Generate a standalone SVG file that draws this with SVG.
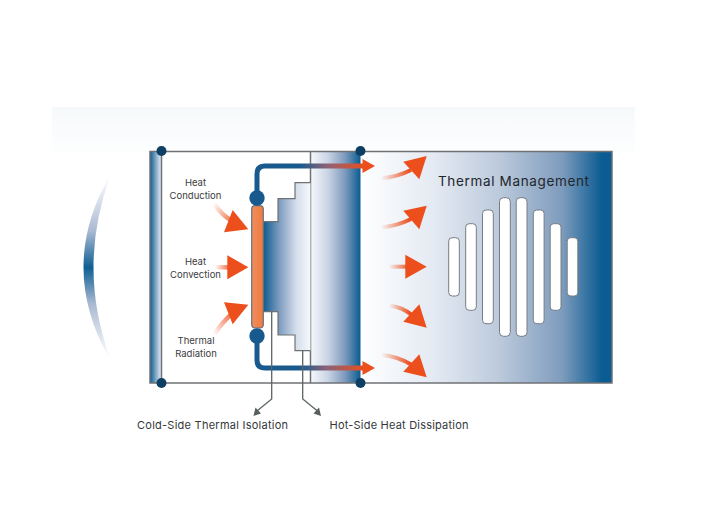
<svg xmlns="http://www.w3.org/2000/svg" width="709" height="521" viewBox="0 0 709 521">
  <style>
    .frame { fill: none; stroke: #6f7275; stroke-width: 1.5; }
    .dot { fill: #0c3f63; }
    .joint { fill: #195a8e; }
    .slot { fill: #fff; stroke: #777d83; stroke-width: 1; }
    .heat { fill: #ec4e1c; }
    .label { font-family: "Inter", "Noto Sans", "Liberation Sans", sans-serif; font-size: 9.5px; fill: #3a3d40; text-anchor: middle; }
    .caption { font-family: "Inter", "Noto Sans", "Liberation Sans", sans-serif; font-size: 11px; fill: #33373b; }
    .title { font-family: "Inter", "Noto Sans", "Liberation Sans", sans-serif; font-size: 13.5px; fill: #22262b; }
    .leader { fill: none; stroke: #5c6468; stroke-width: 1.3; }
    .tip { fill: #56605f; }
  </style>
  <defs>
    <linearGradient id="haze" x1="0" y1="0" x2="0" y2="1"><stop offset="0" stop-color="#f6f9fb"/><stop offset="1" stop-color="#fff"/></linearGradient>
    <linearGradient id="wall" x1="0" y1="0" x2="1" y2="0"><stop offset="0" stop-color="#0c5c92"/><stop offset="1" stop-color="#eef1f8"/></linearGradient>
    <linearGradient id="hotwall" x1="0" y1="0" x2="1" y2="0"><stop offset="0" stop-color="#f7f8fc"/><stop offset=".35" stop-color="#c9d4e4"/><stop offset=".7" stop-color="#7b98bb"/><stop offset="1" stop-color="#0a5c92"/></linearGradient>
    <linearGradient id="outer" x1="0" y1="0" x2="1" y2="0"><stop offset="0" stop-color="#fff"/><stop offset=".3" stop-color="#e3e9f2"/><stop offset=".55" stop-color="#bccadc"/><stop offset=".8" stop-color="#7f9cbd"/><stop offset=".96" stop-color="#0a5c92"/><stop offset="1" stop-color="#0a5c92"/></linearGradient>
    <linearGradient id="steps" x1="0" y1="0" x2="1" y2="0"><stop offset="0" stop-color="#0d5a90"/><stop offset=".35" stop-color="#7f9dc0"/><stop offset=".7" stop-color="#d5deeb"/><stop offset="1" stop-color="#f6f8fc"/></linearGradient>
    <linearGradient id="plate" x1="0" y1="0" x2="1" y2="0"><stop offset="0" stop-color="#ee8e5f"/><stop offset="1" stop-color="#f27a3e"/></linearGradient>
    <linearGradient id="arc" x1="0" y1="177" x2="0" y2="358" gradientUnits="userSpaceOnUse"><stop offset="0" stop-color="#fff"/><stop offset=".3" stop-color="#a9b9d2"/><stop offset=".5" stop-color="#0f5f92"/><stop offset=".7" stop-color="#a9b9d2"/><stop offset="1" stop-color="#fff"/></linearGradient>
    <linearGradient id="pipeTop" x1="257" y1="0" x2="365" y2="0" gradientUnits="userSpaceOnUse"><stop offset="0" stop-color="#195a8e"/><stop offset=".4" stop-color="#195a8e"/><stop offset=".65" stop-color="#8d6276"/><stop offset="1" stop-color="#ec4e1c"/></linearGradient>
    <linearGradient id="fadeR" x1="0" y1="0" x2="1" y2="0"><stop offset="0" stop-color="#ec4e1c" stop-opacity="0"/><stop offset="1" stop-color="#ec4e1c"/></linearGradient>
    <linearGradient id="fadeA" x1="214" y1="203" x2="238" y2="225" gradientUnits="userSpaceOnUse"><stop offset="0" stop-color="#ec4e1c" stop-opacity="0"/><stop offset="1" stop-color="#ec4e1c"/></linearGradient>
    <linearGradient id="fadeC" x1="214" y1="335" x2="238" y2="312" gradientUnits="userSpaceOnUse"><stop offset="0" stop-color="#ec4e1c" stop-opacity="0"/><stop offset="1" stop-color="#ec4e1c"/></linearGradient>
    <linearGradient id="fadeM" x1="215" y1="0" x2="232" y2="0" gradientUnits="userSpaceOnUse"><stop offset="0" stop-color="#ec4e1c" stop-opacity="0"/><stop offset="1" stop-color="#ec4e1c"/></linearGradient>
    <linearGradient id="fade1" x1="381" y1="0" x2="410" y2="0" gradientUnits="userSpaceOnUse"><stop offset="0" stop-color="#ec4e1c" stop-opacity="0"/><stop offset="1" stop-color="#ec4e1c"/></linearGradient>
    <linearGradient id="fade3" x1="389" y1="0" x2="410" y2="0" gradientUnits="userSpaceOnUse"><stop offset="0" stop-color="#ec4e1c" stop-opacity="0"/><stop offset="1" stop-color="#ec4e1c"/></linearGradient>
  </defs>

  <!-- pale band behind the top of the assembly -->
  <rect x="52" y="107" width="583" height="54" fill="url(#haze)"/>

  <!-- curved shield on the far left -->
  <path d="M109,177 Q58,267 109,358 L110,358 Q77,267 110,177 Z" fill="url(#arc)"/>

  <g id="outer-panel">
    <rect x="360.5" y="151.5" width="251.5" height="231.5" fill="url(#outer)"/>
  </g>
  <g id="hot-wall">
    <rect x="310.5" y="151.5" width="50" height="231.5" fill="url(#hotwall)"/>
  </g>
  <g id="cold-wall">
    <rect x="150" y="151.5" width="11.5" height="231.5" fill="url(#wall)"/>
  </g>

  <!-- enclosure outlines -->
  <g id="frame">
    <rect class="frame" x="150" y="151.5" width="462" height="231.5"/>
    <line class="frame" x1="161.5" y1="151.5" x2="161.5" y2="383"/>
    <line class="frame" x1="310.5" y1="151.5" x2="310.5" y2="383"/>
  </g>

  <g id="stepped-block">
    <path d="M263,221.7H278V198.7H295V182.7H310.5V350.7H295V335H278V311.7H263Z" fill="url(#steps)"/>
    <path class="frame" style="stroke-width:1.2" d="M263,221.7H278V198.7H295V182.7H310.5M310.5,350.7H295V335H278V311.7H263"/>
  </g>

  <g id="connectors">
    <!-- coolant pipes -->
    <path d="M257,198V174Q257,166 265,166H364" fill="none" stroke="url(#pipeTop)" stroke-width="5"/>
    <path d="M257,336V360Q257,368 265,368H364" fill="none" stroke="url(#pipeTop)" stroke-width="5"/>
    <polygon class="heat" points="375,166 362.5,159 362.5,173"/>
    <polygon class="heat" points="375,368 362.5,361 362.5,375"/>
    <!-- leader lines to the captions -->
    <path class="leader" d="M271.7,311.7V399L257,411"/>
    <polygon class="tip" points="253.5,416 255.5,407.5 261,413.5"/>
    <path class="leader" d="M302.7,350.7V399L317.5,411"/>
    <polygon class="tip" points="321,416 319,407.5 313.5,413.5"/>
    <!-- heat flowing out through the panel -->
    <path d="M381.7,178.3Q397,177 411,170" fill="none" stroke="url(#fade1)" stroke-width="4"/>
    <polygon class="heat" points="426.7,156 403.3,161.7 419.3,179.3"/>
    <path d="M381.7,227.3Q397,226 411,219" fill="none" stroke="url(#fade1)" stroke-width="4"/>
    <polygon class="heat" points="426.7,205.7 403.3,210.7 419.3,229.3"/>
    <path d="M389.3,266.7H407" fill="none" stroke="url(#fade3)" stroke-width="4"/>
    <polygon class="heat" points="426.7,266.7 405.3,254.7 405.3,278.7"/>
    <path d="M389.3,305.7Q402,307 412,315" fill="none" stroke="url(#fade3)" stroke-width="4"/>
    <polygon class="heat" points="426.7,327.7 419.3,304.3 403.3,321.7"/>
    <path d="M381.7,355Q397,356 412,365" fill="none" stroke="url(#fade1)" stroke-width="4"/>
    <polygon class="heat" points="426.7,377.3 419.3,354.3 403.3,371.7"/>
    <!-- heat arriving at the plate -->
    <path d="M214,203.3Q222,216 234,222" fill="none" stroke="url(#fadeA)" stroke-width="4.5"/>
    <polygon class="heat" points="248.3,229.3 232.7,210 224,232.3"/>
    <path d="M215,267.3H229" fill="none" stroke="url(#fadeM)" stroke-width="4.5"/>
    <polygon class="heat" points="248.3,267.3 227.3,255.3 227.3,279.3"/>
    <path d="M214,335Q222,322 234,312" fill="none" stroke="url(#fadeC)" stroke-width="4.5"/>
    <polygon class="heat" points="248.3,304.7 224,302.3 232.7,324.3"/>
  </g>

  <g id="plate-node">
    <rect x="251.7" y="205.7" width="11.6" height="122.3" rx="3.5" fill="url(#plate)" stroke="#69727a" stroke-width="1.2"/>
  </g>
  <g id="joint-top"><circle class="joint" cx="257" cy="198" r="7.7"/></g>
  <g id="joint-bottom"><circle class="joint" cx="257" cy="336" r="7.7"/></g>

  <g id="corner-dots">
    <circle class="dot" cx="161.5" cy="151" r="5"/>
    <circle class="dot" cx="161.5" cy="383" r="5"/>
    <circle class="dot" cx="360.5" cy="151" r="5"/>
    <circle class="dot" cx="360.5" cy="383" r="5"/>
  </g>

  <g id="vent-slots">
    <rect class="slot" x="448.7" y="237.7" width="10.6" height="58.3" rx="3.5"/>
    <rect class="slot" x="465.7" y="223.7" width="10.6" height="86.6" rx="3.5"/>
    <rect class="slot" x="482.5" y="210" width="10.8" height="113.7" rx="3.5"/>
    <rect class="slot" x="499.5" y="197.7" width="10.8" height="138.6" rx="4"/>
    <rect class="slot" x="516.2" y="197.7" width="10.8" height="138.6" rx="4"/>
    <rect class="slot" x="533.3" y="210" width="10.8" height="113.7" rx="3.5"/>
    <rect class="slot" x="550.2" y="223.7" width="10.8" height="86.6" rx="3.5"/>
    <rect class="slot" x="567.2" y="237.7" width="10.6" height="58.3" rx="3.5"/>
  </g>

  <g id="label-conduction">
    <text class="label" x="195.5" y="186">Heat</text>
    <text class="label" x="195.5" y="199">Conduction</text>
  </g>
  <g id="label-convection">
    <text class="label" x="195.5" y="265">Heat</text>
    <text class="label" x="195.5" y="278">Convection</text>
  </g>
  <g id="label-radiation">
    <text class="label" x="196" y="344">Thermal</text>
    <text class="label" x="196" y="357">Radiation</text>
  </g>
  <g id="label-management">
    <text class="title" x="438" y="186" textLength="151" lengthAdjust="spacing">Thermal Management</text>
  </g>
  <g id="label-isolation">
    <text class="caption" x="137" y="429" textLength="151" lengthAdjust="spacing">Cold-Side Thermal Isolation</text>
  </g>
  <g id="label-dissipation">
    <text class="caption" x="329.5" y="429" textLength="139" lengthAdjust="spacing">Hot-Side Heat Dissipation</text>
  </g>
</svg>
